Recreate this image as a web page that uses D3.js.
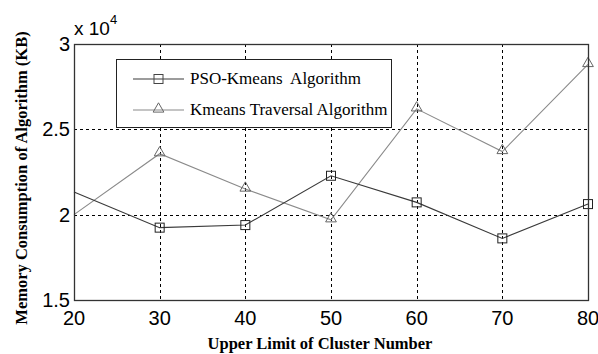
<!DOCTYPE html>
<html>
<head>
<meta charset="utf-8">
<script src="https://cdn.jsdelivr.net/npm/d3@7"></script>
<style>
  body { margin: 0; background: #fff; }
</style>
</head>
<body>
<script>
// Data
var clusters = [20, 30, 40, 50, 60, 70, 80];
var psoKmeans = [21330, 19240, 19390, 22280, 20720, 18610, 20620];
var kmeansTraversal = [20000, 23570, 21500, 19700, 26200, 23700, 28800];
var seriesNames = ["PSO-Kmeans  Algorithm", "Kmeans Traversal Algorithm"];
var xTicks = [20, 30, 40, 50, 60, 70, 80];
var yTicks = [15000, 20000, 25000, 30000];

var width = 598,
    height = 354;
var margin = {top: 44, right: 10, bottom: 54, left: 74};

var svg = d3.select("body").append("svg")
    .attr("width", width)
    .attr("height", height);

var x = d3.scaleLinear()
    .domain([20, 80])
    .range([margin.left, width - margin.right]);
var y = d3.scaleLinear()
    .domain([15000, 30000])
    .range([height - margin.bottom, margin.top]);

var x0 = x.range()[0], x1 = x.range()[1],
    y0 = y.range()[0], y1 = y.range()[1];

// Grid
var grid = svg.append("g").attr("stroke", "#000").attr("stroke-width", 1)
    .attr("stroke-dasharray", "3,3");
grid.selectAll(".gx").data(xTicks.slice(1, -1)).enter().append("line")
    .attr("x1", function(d) { return Math.round(x(d)) + 0.5; })
    .attr("x2", function(d) { return Math.round(x(d)) + 0.5; })
    .attr("y1", y1).attr("y2", y0);
grid.selectAll(".gy").data(yTicks.slice(1, -1)).enter().append("line")
    .attr("y1", function(d) { return Math.round(y(d)) + 0.5; })
    .attr("y2", function(d) { return Math.round(y(d)) + 0.5; })
    .attr("x1", x0).attr("x2", x1);

// Series lines
var line = d3.line()
    .x(function(d, i) { return x(clusters[i]); })
    .y(function(d) { return y(d); });

svg.append("path").datum(kmeansTraversal)
    .attr("fill", "none").attr("stroke", "#8a8a8a").attr("stroke-width", 1.1)
    .attr("d", line);
svg.append("path").datum(psoKmeans)
    .attr("fill", "none").attr("stroke", "#3a3a3a").attr("stroke-width", 1.1)
    .attr("d", line);

// Markers (none drawn at the first point, as in the figure)
var tri = d3.symbol().type(d3.symbolTriangle).size(50);
svg.append("g").selectAll("path")
    .data(kmeansTraversal.slice(1)).enter().append("path")
    .attr("transform", function(d, i) { return "translate(" + x(clusters[i + 1]) + "," + (y(d) - 1) + ")"; })
    .attr("d", tri)
    .attr("fill", "none").attr("stroke", "#666").attr("stroke-width", 1);
svg.append("g").selectAll("rect")
    .data(psoKmeans.slice(1)).enter().append("rect")
    .attr("x", function(d, i) { return x(clusters[i + 1]) - 4.5; })
    .attr("y", function(d) { return y(d) - 4.5; })
    .attr("width", 9).attr("height", 9)
    .attr("fill", "none").attr("stroke", "#222").attr("stroke-width", 1);

// Box
svg.append("rect")
    .attr("x", x0 + 0.5).attr("y", y1 + 0.5)
    .attr("width", x1 - x0).attr("height", y0 - y1)
    .attr("fill", "none").attr("stroke", "#333").attr("stroke-width", 1.3);

// Tick labels
var tickFont = "'Liberation Sans', Arial, sans-serif";
svg.append("g").selectAll("text")
    .data(xTicks).enter().append("text")
    .attr("x", function(d) { return x(d); })
    .attr("y", y0 + 25)
    .attr("text-anchor", "middle")
    .attr("font-family", tickFont).attr("font-size", 20)
    .text(function(d) { return d; });
svg.append("g").selectAll("text")
    .data(yTicks).enter().append("text")
    .attr("x", x0 - 4)
    .attr("y", function(d) { return y(d) + 7; })
    .attr("text-anchor", "end")
    .attr("font-family", tickFont).attr("font-size", 20)
    .text(function(d) { return d / 10000; });

// Exponent
var ex = svg.append("text")
    .attr("x", x0 + 0).attr("y", 35)
    .attr("font-family", tickFont).attr("font-size", 19);
ex.append("tspan").text("x 10");
ex.append("tspan").attr("dy", -11).attr("font-size", 13).text("4");

// Axis titles
var titleFont = "'Liberation Serif', 'Times New Roman', serif";
svg.append("text")
    .attr("x", (x0 + x1) / 2 - 11).attr("y", 349)
    .attr("text-anchor", "middle")
    .attr("font-family", titleFont).attr("font-size", 16.5).attr("font-weight", "bold")
    .text("Upper Limit of Cluster Number");
svg.append("text")
    .attr("transform", "translate(27,178) rotate(-90)")
    .attr("text-anchor", "middle")
    .attr("font-family", titleFont).attr("font-size", 16.5).attr("font-weight", "bold")
    .text("Memory Consumption of Algorithm (KB)");

// Legend
var legend = svg.append("g");
legend.append("rect")
    .attr("x", 116.5).attr("y", 59.5)
    .attr("width", 275).attr("height", 68)
    .attr("fill", "#fff").attr("stroke", "#222").attr("stroke-width", 1);
var legendY = [79, 110];
var legendColors = ["#3a3a3a", "#8a8a8a"];
legendY.forEach(function(ly, i) {
    legend.append("line")
        .attr("x1", 133).attr("x2", 184).attr("y1", ly).attr("y2", ly)
        .attr("stroke", legendColors[i]).attr("stroke-width", 1.1);
    if (i === 0) {
        legend.append("rect").attr("x", 154).attr("y", ly - 4.5)
            .attr("width", 9).attr("height", 9)
            .attr("fill", "none").attr("stroke", "#444");
    } else {
        legend.append("path").attr("transform", "translate(158.5," + (ly - 1) + ")")
            .attr("d", tri).attr("fill", "none").attr("stroke", "#666");
    }
    legend.append("text")
        .attr("x", 190).attr("y", ly + 5)
        .attr("font-family", titleFont).attr("font-size", 17)
        .style("white-space", "pre")
        .text(seriesNames[i]);
});
</script>
</body>
</html>
